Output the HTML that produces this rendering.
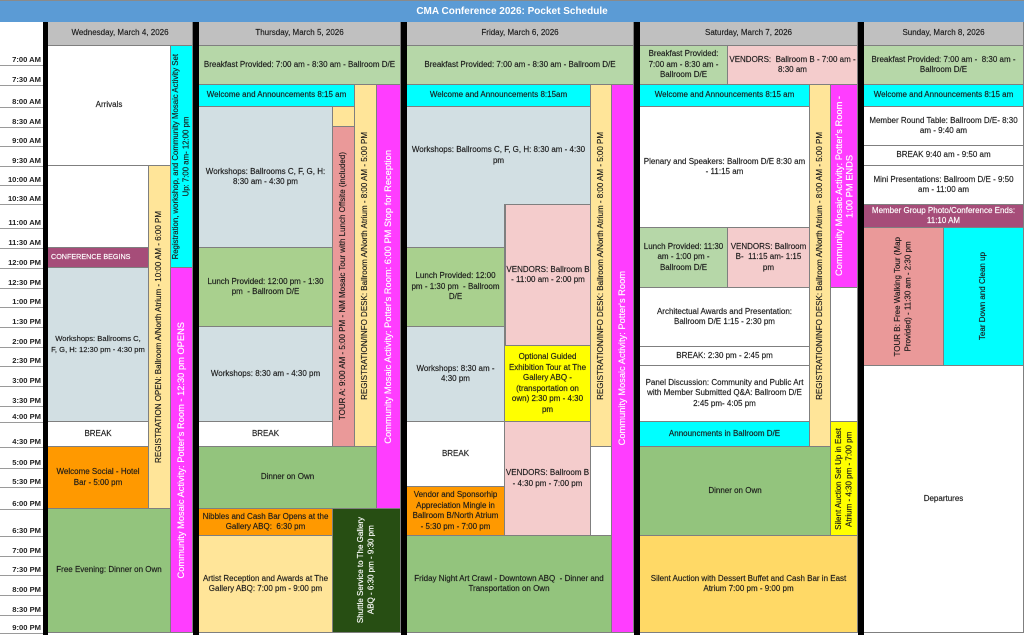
<!DOCTYPE html>
<html><head><meta charset="utf-8">
<style>
html,body{margin:0;padding:0;}
body{width:1024px;height:635px;overflow:hidden;position:relative;background:#fff;font-family:"Liberation Sans",Arial,sans-serif;}
.b{position:absolute;box-sizing:border-box;display:flex;align-items:center;justify-content:center;text-align:center;border-right:1px solid #7f7f7f;border-bottom:1px solid #7f7f7f;font-size:8px;line-height:10.5px;color:#1a1a1a;white-space:nowrap;overflow:visible;-webkit-text-stroke:0.15px currentColor;}
.v>span{writing-mode:vertical-rl;transform:rotate(180deg);}
.m{font-size:9.3px;color:#fff;}
.w{color:#fff;}
.bar{position:absolute;top:22px;height:613px;background:#000;}
.hd{background:#c0c0c0;}
.t{position:absolute;left:0;width:41px;height:10px;line-height:10px;font-size:7.6px;font-weight:bold;text-align:right;color:#222;white-space:nowrap;}
.ln{position:absolute;left:0;width:43px;height:1px;background:#9a9a9a;}
.wh{background:#fff;}
.cy{background:#00ffff;}
.gr1{background:#b6d7a8;}
.gr2{background:#a9d08e;}
.gr3{background:#93c47d;}
.ws{background:#d2dfe3;}
.ye{background:#ffe599;}
.mg{background:#ff3dff;}
.mr{background:#a64d79;}
.or{background:#ff9900;}
.pk{background:#f4cccc;}
.tp{background:#ea9999;}
.yy{background:#ffff00;}
.dg{background:#274e13;}
.au{background:#ffd966;}
</style></head><body>

<!-- title -->
<div style="position:absolute;left:0;top:0;width:1024px;height:22px;box-sizing:border-box;border-top:1px solid #8a8a8a;background:#5b9bd5;color:#fff;font-weight:bold;font-size:10px;line-height:21px;text-align:center;">CMA Conference 2026: Pocket Schedule</div>

<!-- time column -->
<div class="ln" style="top:65px"></div><div class="t" style="top:55px">7:00 AM</div>
<div class="ln" style="top:85px"></div><div class="t" style="top:75px">7:30 AM</div>
<div class="ln" style="top:107px"></div><div class="t" style="top:97px">8:00 AM</div>
<div class="ln" style="top:127px"></div><div class="t" style="top:117px">8:30 AM</div>
<div class="ln" style="top:146px"></div><div class="t" style="top:136px">9:00 AM</div>
<div class="ln" style="top:166px"></div><div class="t" style="top:156px">9:30 AM</div>
<div class="ln" style="top:185px"></div><div class="t" style="top:175px">10:00 AM</div>
<div class="ln" style="top:204px"></div><div class="t" style="top:194px">10:30 AM</div>
<div class="ln" style="top:228px"></div><div class="t" style="top:218px">11:00 AM</div>
<div class="ln" style="top:248px"></div><div class="t" style="top:238px">11:30 AM</div>
<div class="ln" style="top:268px"></div><div class="t" style="top:258px">12:00 PM</div>
<div class="ln" style="top:288px"></div><div class="t" style="top:278px">12:30 PM</div>
<div class="ln" style="top:307px"></div><div class="t" style="top:297px">1:00 PM</div>
<div class="ln" style="top:327px"></div><div class="t" style="top:317px">1:30 PM</div>
<div class="ln" style="top:347px"></div><div class="t" style="top:337px">2:00 PM</div>
<div class="ln" style="top:366px"></div><div class="t" style="top:356px">2:30 PM</div>
<div class="ln" style="top:386px"></div><div class="t" style="top:376px">3:00 PM</div>
<div class="ln" style="top:406px"></div><div class="t" style="top:396px">3:30 PM</div>
<div class="ln" style="top:422px"></div><div class="t" style="top:412px">4:00 PM</div>
<div class="ln" style="top:447px"></div><div class="t" style="top:437px">4:30 PM</div>
<div class="ln" style="top:468px"></div><div class="t" style="top:458px">5:00 PM</div>
<div class="ln" style="top:487px"></div><div class="t" style="top:477px">5:30 PM</div>
<div class="ln" style="top:509px"></div><div class="t" style="top:499px">6:00 PM</div>
<div class="ln" style="top:536px"></div><div class="t" style="top:526px">6:30 PM</div>
<div class="ln" style="top:556px"></div><div class="t" style="top:546px">7:00 PM</div>
<div class="ln" style="top:575px"></div><div class="t" style="top:565px">7:30 PM</div>
<div class="ln" style="top:595px"></div><div class="t" style="top:585px">8:00 PM</div>
<div class="ln" style="top:615px"></div><div class="t" style="top:605px">8:30 PM</div>
<div class="ln" style="top:633px"></div><div class="t" style="top:623px">9:00 PM</div>

<!-- headers -->
<div class="b hd" style="left:48px;top:22px;width:145px;height:24px;">Wednesday, March 4, 2026</div>
<div class="b hd" style="left:199px;top:22px;width:202px;height:24px;">Thursday, March 5, 2026</div>
<div class="b hd" style="left:407px;top:22px;width:227px;height:24px;">Friday, March 6, 2026</div>
<div class="b hd" style="left:640px;top:22px;width:218px;height:24px;">Saturday, March 7, 2026</div>
<div class="b hd" style="left:864px;top:22px;width:160px;height:24px;">Sunday, March 8, 2026</div>

<!-- Wednesday -->
<div class="b wh" style="left:48px;top:46px;width:123px;height:120px;">Arrivals</div>
<div class="b cy v" style="left:171px;top:46px;width:22px;height:222px;font-size:7.8px;"><span>Registration, workshop, and Community Mosaic Activity Set<br>Up: 7:00 am- 12:00 pm</span></div>
<div class="b wh" style="left:48px;top:166px;width:101px;height:82px;"></div>
<div class="b ye v" style="left:149px;top:166px;width:22px;height:343px;"><span>REGISTRATION OPEN: Ballroom A/North Atrium - 10:00 AM - 6:00 PM</span></div>
<div class="b mr w" style="left:48px;top:248px;width:101px;height:20px;justify-content:flex-start;padding-left:3px;font-size:7.2px;">CONFERENCE BEGINS</div>
<div class="b ws" style="left:48px;top:268px;width:101px;height:154px;font-size:7.6px;">Workshops: Ballrooms C,<br>F, G, H: 12:30 pm - 4:30 pm</div>
<div class="b wh" style="left:48px;top:422px;width:101px;height:25px;">BREAK</div>
<div class="b or" style="left:48px;top:447px;width:101px;height:62px;">Welcome Social - Hotel<br>Bar - 5:00 pm</div>
<div class="b gr3" style="left:48px;top:509px;width:123px;height:124px;">Free Evening: Dinner on Own</div>
<div class="b mg v m" style="left:171px;top:268px;width:22px;height:365px;"><span>Community Mosaic Activity: Potter's Room - 12:30 pm OPENS</span></div>

<!-- Thursday -->
<div class="b gr1" style="left:199px;top:46px;width:202px;height:39px;">Breakfast Provided: 7:00 am - 8:30 am - Ballroom D/E</div>
<div class="b cy" style="left:199px;top:85px;width:156px;height:22px;">Welcome and Announcements 8:15 am</div>
<div class="b ye" style="left:333px;top:107px;width:22px;height:20px;"></div>
<div class="b ye v" style="left:355px;top:85px;width:22px;height:362px;"><span>REGISTRATION/INFO DESK: Ballroom A/North Atrium - 8:00 AM - 5:00 PM</span></div>
<div class="b mg v m" style="left:377px;top:85px;width:24px;height:424px;"><span>Community Mosaic Activity: Potter's Room: 6:00 PM Stop for Reception</span></div>
<div class="b ws" style="left:199px;top:107px;width:134px;height:141px;">Workshops: Ballrooms C, F, G, H:<br>8:30 am - 4:30 pm</div>
<div class="b tp v" style="left:333px;top:127px;width:22px;height:320px;"><span>TOUR A: 9:00 AM - 5:00 PM - NM Mosaic Tour with Lunch Offsite (included)</span></div>
<div class="b gr2" style="left:199px;top:248px;width:134px;height:79px;">Lunch Provided: 12:00 pm - 1:30<br>pm&nbsp; - Ballroom D/E</div>
<div class="b ws" style="left:199px;top:327px;width:134px;height:95px;">Workshops: 8:30 am - 4:30 pm</div>
<div class="b wh" style="left:199px;top:422px;width:134px;height:25px;">BREAK</div>
<div class="b gr3" style="left:199px;top:447px;width:178px;height:62px;">Dinner on Own</div>
<div class="b or" style="left:199px;top:509px;width:134px;height:27px;">Nibbles and Cash Bar Opens at the<br>Gallery ABQ:&nbsp; 6:30 pm</div>
<div class="b ye" style="left:199px;top:536px;width:134px;height:97px;">Artist Reception and Awards at The<br>Gallery ABQ: 7:00 pm - 9:00 pm</div>
<div class="b dg v w" style="left:333px;top:509px;width:68px;height:124px;"><span>Shuttle Service to The Gallery<br>ABQ - 6:30 pm - 9:30 pm</span></div>

<!-- Friday -->
<div class="b gr1" style="left:407px;top:46px;width:227px;height:39px;">Breakfast Provided: 7:00 am - 8:30 am - Ballroom D/E</div>
<div class="b cy" style="left:407px;top:85px;width:184px;height:22px;">Welcome and Announcements 8:15am</div>
<div class="b ye v" style="left:591px;top:85px;width:21px;height:362px;"><span>REGISTRATION/INFO DESK: Ballroom A/North Atrium - 8:00 AM - 5:00 PM</span></div>
<div class="b mg v m" style="left:612px;top:85px;width:22px;height:548px;"><span>Community Mosaic Activity: Potter's Room</span></div>
<div class="b ws" style="left:407px;top:107px;width:184px;height:98px;">Workshops: Ballrooms C, F, G, H: 8:30 am - 4:30<br>pm</div>
<div class="b ws" style="left:407px;top:204px;width:98px;height:44px;"></div>
<div class="b pk" style="left:505px;top:205px;width:86px;height:141px;border-left:1px solid #7f7f7f;">VENDORS: Ballroom B<br>- 11:00 am - 2:00 pm</div>
<div class="b gr2" style="left:407px;top:248px;width:98px;height:79px;">Lunch Provided: 12:00<br>pm - 1:30 pm&nbsp; - Ballroom<br>D/E</div>
<div class="b ws" style="left:407px;top:327px;width:98px;height:95px;">Workshops: 8:30 am -<br>4:30 pm</div>
<div class="b yy" style="left:505px;top:346px;width:86px;height:76px;">Optional Guided<br>Exhibition Tour at The<br>Gallery ABQ -<br>(transportation on<br>own) 2:30 pm - 4:30<br>pm</div>
<div class="b wh" style="left:407px;top:422px;width:98px;height:65px;">BREAK</div>
<div class="b pk" style="left:505px;top:422px;width:86px;height:114px;">VENDORS: Ballroom B<br>- 4:30 pm - 7:00 pm</div>
<div class="b or" style="left:407px;top:487px;width:98px;height:49px;">Vendor and Sponsorhip<br>Appreciation Mingle in<br>Ballroom B/North Atrium<br>- 5:30 pm - 7:00 pm</div>
<div class="b wh" style="left:591px;top:447px;width:21px;height:89px;"></div>
<div class="b gr3" style="left:407px;top:536px;width:205px;height:97px;">Friday Night Art Crawl - Downtown ABQ&nbsp; - Dinner and<br>Transportation on Own</div>

<!-- Saturday -->
<div class="b gr1" style="left:640px;top:46px;width:88px;height:39px;">Breakfast Provided:<br>7:00 am - 8:30 am -<br>Ballroom D/E</div>
<div class="b pk" style="left:728px;top:46px;width:130px;height:39px;">VENDORS:&nbsp; Ballroom B - 7:00 am -<br>8:30 am</div>
<div class="b cy" style="left:640px;top:85px;width:170px;height:22px;">Welcome and Announcements 8:15 am</div>
<div class="b ye v" style="left:810px;top:85px;width:21px;height:362px;"><span>REGISTRATION/INFO DESK: Ballroom A/North Atrium - 8:00 AM - 5:00 PM</span></div>
<div class="b mg v m" style="left:831px;top:85px;width:27px;height:203px;"><span>Community Mosaic Activity: Potter's Room -<br>1:00 PM ENDS</span></div>
<div class="b wh" style="left:640px;top:107px;width:170px;height:121px;">Plenary and Speakers: Ballroom D/E 8:30 am<br>- 11:15 am</div>
<div class="b gr1" style="left:640px;top:228px;width:88px;height:60px;">Lunch Provided: 11:30<br>am - 1:00 pm -<br>Ballroom D/E</div>
<div class="b pk" style="left:728px;top:228px;width:82px;height:60px;">VENDORS: Ballroom<br>B-&nbsp; 11:15 am- 1:15<br>pm</div>
<div class="b wh" style="left:640px;top:288px;width:170px;height:59px;">Architectual Awards and Presentation:<br>Ballroom D/E 1:15 - 2:30 pm</div>
<div class="b wh" style="left:831px;top:288px;width:27px;height:134px;"></div>
<div class="b wh" style="left:640px;top:347px;width:170px;height:19px;">BREAK: 2:30 pm - 2:45 pm</div>
<div class="b wh" style="left:640px;top:366px;width:170px;height:56px;">Panel Discussion: Community and Public Art<br>with Member Submitted Q&amp;A: Ballroom D/E<br>2:45 pm- 4:05 pm</div>
<div class="b cy" style="left:640px;top:422px;width:170px;height:25px;">Announcments in Ballroom D/E</div>
<div class="b yy v" style="left:831px;top:422px;width:27px;height:114px;"><span>Silent Auction Set Up in East<br>Atrium - 4:30 pm - 7:00 pm</span></div>
<div class="b gr3" style="left:640px;top:447px;width:191px;height:89px;">Dinner on Own</div>
<div class="b au" style="left:640px;top:536px;width:218px;height:97px;">Silent Auction with Dessert Buffet and Cash Bar in East<br>Atrium 7:00 pm - 9:00 pm</div>

<!-- Sunday -->
<div class="b gr1" style="left:864px;top:46px;width:160px;height:39px;">Breakfast Provided: 7:00 am -&nbsp; 8:30 am -<br>Ballroom D/E</div>
<div class="b cy" style="left:864px;top:85px;width:160px;height:22px;">Welcome and Announcements 8:15 am</div>
<div class="b wh" style="left:864px;top:107px;width:160px;height:39px;">Member Round Table: Ballroom D/E- 8:30<br>am - 9:40 am</div>
<div class="b wh" style="left:864px;top:146px;width:160px;height:20px;">BREAK 9:40 am - 9:50 am</div>
<div class="b wh" style="left:864px;top:166px;width:160px;height:39px;">Mini Presentations: Ballroom D/E - 9:50<br>am - 11:00 am</div>
<div class="b mr w" style="left:864px;top:205px;width:160px;height:23px;">Member Group Photo/Conference Ends:<br>11:10 AM</div>
<div class="b tp v" style="left:864px;top:228px;width:80px;height:138px;"><span>TOUR B: Free Walking Tour (Map<br>Provided) - 11:30 am - 2:30 pm</span></div>
<div class="b cy v" style="left:944px;top:228px;width:80px;height:138px;"><span>Tear Down and Clean up</span></div>
<div class="b wh" style="left:864px;top:366px;width:160px;height:267px;">Departures</div>

<!-- black separators -->
<div class="bar" style="left:43px;width:5px;"></div>
<div class="bar" style="left:193px;width:6px;"></div>
<div class="bar" style="left:401px;width:6px;"></div>
<div class="bar" style="left:634px;width:6px;"></div>
<div class="bar" style="left:858px;width:6px;"></div>

</body></html>
